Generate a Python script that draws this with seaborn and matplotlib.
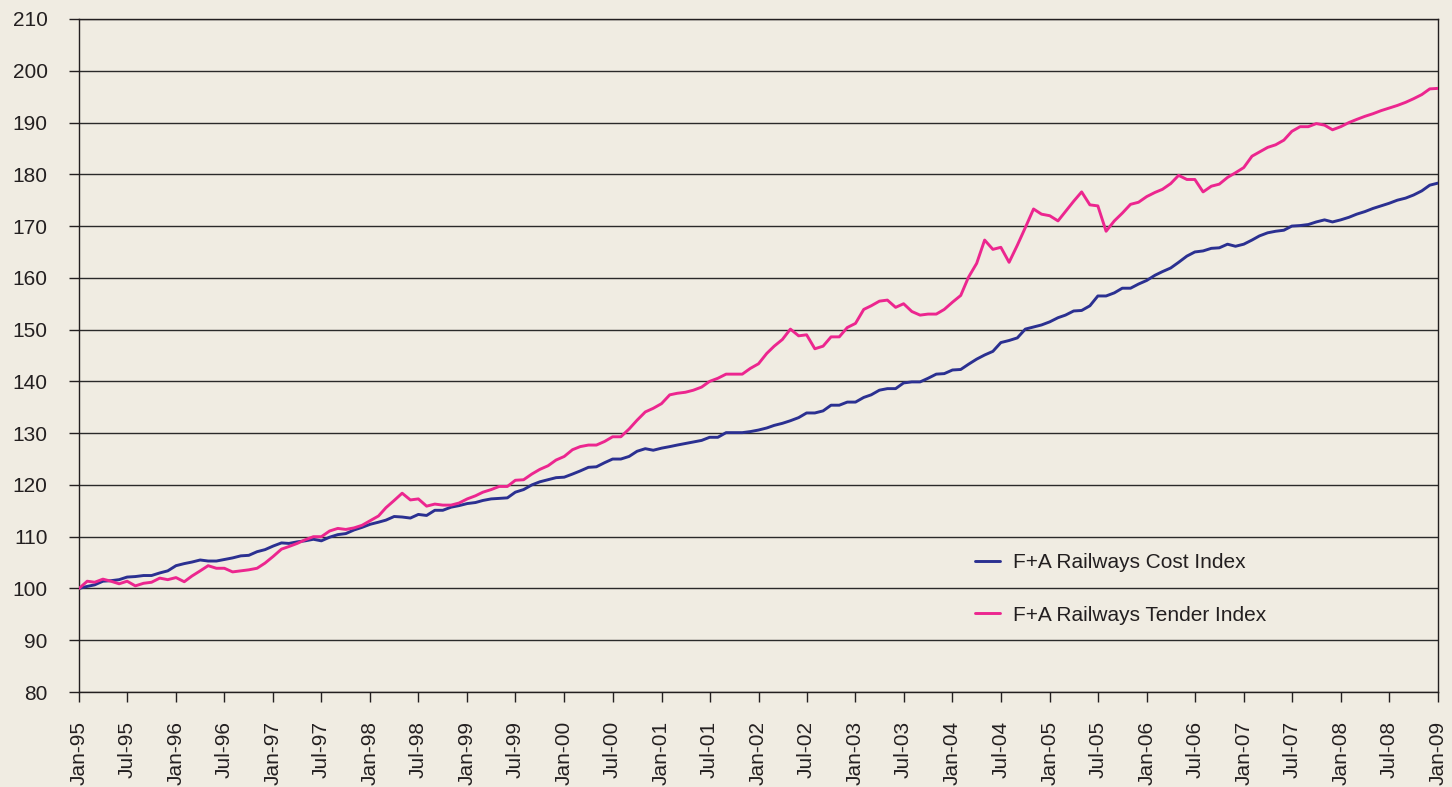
"""F+A Railways Cost / Tender index, Jan-95 to Jan-09 (monthly, Jan-95 = 100)."""

import matplotlib.pyplot as plt
import pandas as pd
import seaborn as sns

# monthly values, Jan-95 .. Jan-09
COST_INDEX = [
    100.0, 100.4, 100.7, 101.4, 101.5, 101.7, 102.2, 102.3, 102.5, 102.5, 103.0, 103.4,
    104.4, 104.8, 105.1, 105.5, 105.3, 105.3, 105.6, 105.9, 106.3, 106.4, 107.1, 107.5,
    108.2, 108.8, 108.7, 109.0, 109.2, 109.5, 109.2, 109.9, 110.4, 110.6, 111.3, 111.8,
    112.4, 112.8, 113.2, 113.9, 113.8, 113.6, 114.3, 114.1, 115.1, 115.1, 115.7, 116.0,
    116.4, 116.6, 117.0, 117.3, 117.4, 117.5, 118.6, 119.1, 120.0, 120.6, 121.0, 121.4,
    121.5, 122.1, 122.7, 123.4, 123.5, 124.3, 125.0, 125.0, 125.5, 126.5, 127.0, 126.7,
    127.1, 127.4, 127.7, 128.0, 128.3, 128.6, 129.2, 129.2, 130.1, 130.1, 130.1, 130.3,
    130.6, 131.0, 131.5, 131.9, 132.4, 133.0, 133.9, 133.9, 134.3, 135.4, 135.4, 136.0,
    136.0, 136.9, 137.4, 138.3, 138.6, 138.6, 139.7, 139.9, 139.9, 140.6, 141.4, 141.5,
    142.2, 142.3, 143.3, 144.3, 145.1, 145.8, 147.5, 147.9, 148.4, 150.1, 150.5, 150.9,
    151.5, 152.3, 152.8, 153.6, 153.7, 154.6, 156.5, 156.5, 157.1, 158.0, 158.0, 158.8,
    159.5, 160.5, 161.2, 161.9, 163.0, 164.2, 165.0, 165.2, 165.7, 165.8, 166.5, 166.1,
    166.5, 167.3, 168.1, 168.7, 169.0, 169.2, 170.0, 170.1, 170.3, 170.8, 171.2, 170.8,
    171.2, 171.7, 172.3, 172.8, 173.4, 173.9, 174.4, 175.0, 175.4, 176.0, 176.8, 177.9,
    178.3,
]

TENDER_INDEX = [
    100.0, 101.4, 101.2, 101.8, 101.4, 100.9, 101.4, 100.5, 101.0, 101.2, 102.0, 101.7,
    102.1, 101.3, 102.4, 103.4, 104.4, 103.9, 103.9, 103.2, 103.4, 103.6, 103.9, 104.9,
    106.2, 107.6, 108.1, 108.7, 109.4, 110.0, 110.0, 111.1, 111.6, 111.4, 111.7, 112.2,
    113.1, 114.0, 115.6, 117.0, 118.4, 117.1, 117.3, 115.9, 116.3, 116.1, 116.1, 116.5,
    117.3, 117.9, 118.6, 119.1, 119.7, 119.7, 120.9, 121.0, 122.1, 123.0, 123.7, 124.8,
    125.5, 126.8, 127.4, 127.7, 127.7, 128.4, 129.3, 129.3, 130.8, 132.5, 134.1, 134.8,
    135.7, 137.4, 137.7, 137.9, 138.3, 138.9, 140.0, 140.6, 141.4, 141.4, 141.4, 142.5,
    143.4, 145.4, 146.8, 148.1, 150.1, 148.8, 149.0, 146.3, 146.8, 148.6, 148.6, 150.4,
    151.2, 153.9, 154.6, 155.5, 155.7, 154.3, 155.0, 153.5, 152.8, 153.0, 153.0, 153.9,
    155.3, 156.6, 160.1, 162.8, 167.3, 165.5, 165.9, 163.0, 166.3, 169.7, 173.3, 172.3,
    172.0, 171.0, 172.8, 174.8, 176.6, 174.1, 173.9, 169.0, 171.0, 172.5, 174.2, 174.6,
    175.7, 176.5, 177.1, 178.2, 179.8, 179.0, 179.0, 176.6, 177.7, 178.1, 179.4, 180.3,
    181.3, 183.5, 184.3, 185.2, 185.7, 186.6, 188.3, 189.2, 189.2, 189.8, 189.5, 188.6,
    189.2, 190.0, 190.6, 191.2, 191.7, 192.3, 192.8, 193.3, 193.9, 194.6, 195.4, 196.5,
    196.6,
]

SERIES_NAMES = ["F+A Railways Cost Index", "F+A Railways Tender Index"]
SERIES_COLORS = ["#2b3091", "#ec268f"]

TICK_LABELS = [
    "Jan-95", "Jul-95", "Jan-96", "Jul-96", "Jan-97", "Jul-97", "Jan-98", "Jul-98",
    "Jan-99", "Jul-99", "Jan-00", "Jul-00", "Jan-01", "Jul-01", "Jan-02", "Jul-02",
    "Jan-03", "Jul-03", "Jan-04", "Jul-04", "Jan-05", "Jul-05", "Jan-06", "Jul-06",
    "Jan-07", "Jul-07", "Jan-08", "Jul-08", "Jan-09",
]

BG = "#f0ece2"
INK = "#231f20"


def main() -> None:
    sns.set_theme(style="white")
    plt.rcParams["font.family"] = ["Liberation Sans", "DejaVu Sans"]

    dates = pd.date_range("1995-01-01", periods=len(COST_INDEX), freq="MS")
    df = pd.concat([
        pd.DataFrame({"date": dates, "value": COST_INDEX, "series": SERIES_NAMES[0]}),
        pd.DataFrame({"date": dates, "value": TENDER_INDEX, "series": SERIES_NAMES[1]}),
    ])

    fig = plt.figure(figsize=(14.52, 7.87), dpi=100, facecolor=BG)
    ax = fig.add_axes([79 / 1452, 1 - 692 / 787, (1438 - 79) / 1452, (692 - 19) / 787])
    ax.set_facecolor(BG)

    sns.lineplot(data=df, x="date", y="value", hue="series",
                 palette=dict(zip(SERIES_NAMES, SERIES_COLORS)),
                 linewidth=2.1, ax=ax, zorder=3)

    ax.set_xlim(dates[0], dates[-1])
    ax.set_ylim(80, 210)
    ax.set_yticks(range(80, 211, 10))
    ax.set_xticks(dates[::6])
    ax.set_xticklabels(TICK_LABELS, rotation=90, fontsize=15, color=INK)
    ax.tick_params(axis="y", labelsize=15, labelcolor=INK, length=7.5, width=1,
                   direction="out", pad=15, color=INK, left=True)
    ax.tick_params(axis="x", length=7, width=1, direction="out", pad=14,
                   color=INK, bottom=True)

    ax.grid(axis="y", color="#2a2a2a", linewidth=1)
    ax.grid(axis="x", visible=False)
    for side in ["left", "bottom", "right", "top"]:
        ax.spines[side].set_visible(True)
        ax.spines[side].set_color(INK)
        ax.spines[side].set_linewidth(1)
    ax.set_xlabel("")
    ax.set_ylabel("")

    ax.legend(loc="center left", bbox_to_anchor=(975 / 1452, 1 - 589 / 787),
              bbox_transform=fig.transFigure, frameon=False, fontsize=15,
              borderaxespad=0, borderpad=0, labelspacing=1.6,
              handlelength=1.2, handletextpad=0.6, labelcolor=INK)

    fig.savefig("out.png", dpi=100, facecolor=BG)
    plt.close(fig)


if __name__ == "__main__":
    main()
